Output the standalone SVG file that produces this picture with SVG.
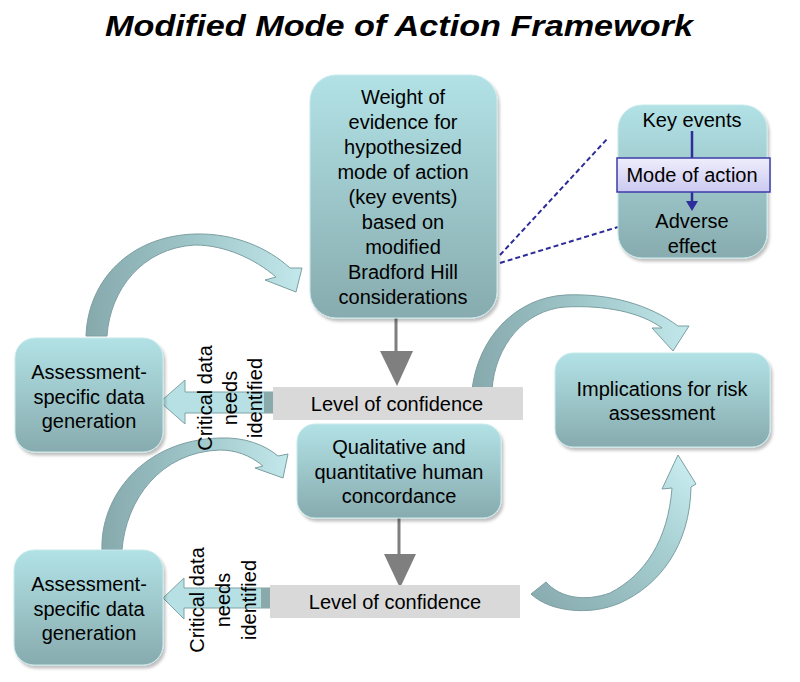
<svg xmlns="http://www.w3.org/2000/svg" width="800" height="682" viewBox="0 0 800 682">
<defs>
<linearGradient id="nodeGrad" x1="0" y1="0" x2="0" y2="1">
<stop offset="0" stop-color="#b2e2e6"/>
<stop offset="1" stop-color="#87abae"/>
</linearGradient>
<linearGradient id="moaGrad" x1="0" y1="0" x2="0" y2="1">
<stop offset="0" stop-color="#efeefc"/>
<stop offset="1" stop-color="#cbc9f0"/>
</linearGradient>
<linearGradient id="arcGradH" x1="0" y1="0" x2="1" y2="0">
<stop offset="0" stop-color="#86a9ac"/>
<stop offset="0.5" stop-color="#9fc6c9"/>
<stop offset="1" stop-color="#c2e8ec"/>
</linearGradient>
<linearGradient id="arcGradUp" x1="0" y1="1" x2="1" y2="0">
<stop offset="0" stop-color="#86a9ac"/>
<stop offset="0.6" stop-color="#a6ced1"/>
<stop offset="1" stop-color="#cdf0f3"/>
</linearGradient>
<filter id="shadow" x="-10%" y="-10%" width="125%" height="125%">
<feDropShadow dx="2" dy="3" stdDeviation="1.5" flood-color="#000" flood-opacity="0.25"/>
</filter>
</defs>
<style>
.node { fill: url(#nodeGrad); stroke: #c9eaed; stroke-width: 1; filter: url(#shadow); }
.txt { font-family: "Liberation Sans", Arial, sans-serif; font-size: 20px; fill: #000; text-anchor: middle; }
.title { font-family: "Liberation Sans", Arial, sans-serif; font-size: 30px; font-weight: bold; font-style: italic; fill: #000; text-anchor: middle; }
.bar { fill: #d9d9d9; }
.arc { stroke: #7c9fa2; stroke-width: 1; }
.block { fill: #b6e0e4; stroke: #7ea4a7; stroke-width: 1; }
.blockEnd { fill: #8aa9ab; }
.gray { stroke: #7f7f7f; stroke-width: 3; fill: none; }
.grayHead { fill: #7f7f7f; }
.dash { stroke: #2b2b99; stroke-width: 2; stroke-dasharray: 5 3; fill: none; }
.blue { stroke: #2e2e9a; stroke-width: 2.5; fill: none; }
</style>
<rect width="800" height="682" fill="#fff"/>
<text class="title" x="399" y="36" textLength="588" lengthAdjust="spacingAndGlyphs">Modified Mode of Action Framework</text>

<g id="connectors">
<!-- curved arrow: left box 1 to weight of evidence -->
<path class="arc" fill="url(#arcGradH)" d="M 86 336 C 88 280 130 236 195 234 C 235 233 268 248 290 268 L 302 268 L 296 292 L 265 280 L 276 277 C 255 259 225 245 195 245 C 142 248 110 290 107 336 Z"/>
<!-- curved arrow: left box 2 to qualitative box -->
<path class="arc" fill="url(#arcGradH)" d="M 102 550 C 100 498 142 440 220 438 C 245 437 265 445 278 456 L 288 454 L 283 478 L 255 468 L 263 466 C 250 455 235 450 220 450 C 160 452 126 500 122 550 Z"/>
<!-- curved arrow: level of confidence 1 to implications -->
<path class="arc" fill="url(#arcGradH)" d="M 472 390 C 478 338 515 298 565 295 C 610 293 650 305 678 326 L 689 326 L 673 351 L 652 328 L 662 328 C 640 312 605 305 565 307 C 525 310 495 345 492 390 Z"/>
<!-- curved arrow: level of confidence 2 to implications -->
<path class="arc" fill="url(#arcGradUp)" d="M 531 594 C 550 612 590 616 620 603 C 660 585 690 545 691 487 L 696 484 L 678 455 L 662 489 L 672 488 C 668 540 645 575 610 593 C 585 602 560 598 546 582 Z"/>

<!-- block arrows: critical data needs identified -->
<path class="block" d="M 160 402 L 185 380 L 185 392 L 273 392 L 273 413 L 185 413 L 185 424 Z"/>
<rect class="blockEnd" x="264" y="392" width="9" height="21"/>
<path class="block" d="M 163 598 L 184 578 L 184 588 L 270 588 L 270 608 L 184 608 L 184 619 Z"/>
<rect class="blockEnd" x="261" y="588" width="9" height="20"/>

<!-- gray down arrows -->
<line class="gray" x1="396" y1="318" x2="396" y2="353"/>
<polygon class="grayHead" points="380,351 413,351 397,386"/>
<line class="gray" x1="399" y1="518" x2="399" y2="556"/>
<polygon class="grayHead" points="384,554 416,554 400,588"/>

<!-- dashed callout lines -->
<line class="dash" x1="500" y1="255" x2="608" y2="138"/>
<line class="dash" x1="500" y1="263" x2="618" y2="227"/>
</g>

<g id="weight-of-evidence">
<rect class="node" x="310" y="75" width="187" height="243" rx="26"/>
<text class="txt" x="403" y="104">Weight of</text>
<text class="txt" x="403" y="129">evidence for</text>
<text class="txt" x="403" y="154">hypothesized</text>
<text class="txt" x="403" y="179">mode of action</text>
<text class="txt" x="403" y="204">(key events)</text>
<text class="txt" x="403" y="229">based on</text>
<text class="txt" x="403" y="254">modified</text>
<text class="txt" x="403" y="279">Bradford Hill</text>
<text class="txt" x="403" y="304">considerations</text>
</g>

<g id="key-events-detail">
<rect class="node" x="618" y="105" width="149" height="153" rx="24"/>
<text class="txt" x="692" y="127">Key events</text>
<line class="blue" x1="692" y1="131" x2="692" y2="159"/>
<line class="blue" x1="692" y1="191" x2="692" y2="203"/>
<polygon fill="#2e2e9a" points="686,201 698,201 692,211"/>
<rect x="617" y="158" width="153" height="34" fill="url(#moaGrad)" stroke="#3c3ca8" stroke-width="1.5"/>
<text class="txt" x="692" y="182">Mode of action</text>
<text class="txt" x="692" y="228">Adverse</text>
<text class="txt" x="692" y="253">effect</text>
</g>

<g id="assessment-1">
<rect class="node" x="15" y="338" width="148" height="114" rx="20"/>
<text class="txt" x="89" y="379">Assessment-</text>
<text class="txt" x="89" y="404">specific data</text>
<text class="txt" x="89" y="428">generation</text>
</g>

<g id="confidence-1">
<rect class="bar" x="273" y="387" width="250" height="33"/>
<text class="txt" x="397" y="411">Level of confidence</text>
</g>

<g id="critical-1">
<text class="txt" transform="translate(212,398) rotate(-90)">Critical data</text>
<text class="txt" transform="translate(237,398) rotate(-90)">needs</text>
<text class="txt" transform="translate(262,398) rotate(-90)">identified</text>
</g>

<g id="implications">
<rect class="node" x="555" y="353" width="215" height="94" rx="18"/>
<text class="txt" x="662" y="396">Implications for risk</text>
<text class="txt" x="662" y="420">assessment</text>
</g>

<g id="concordance">
<rect class="node" x="297" y="424" width="204" height="94" rx="18"/>
<text class="txt" x="399" y="454">Qualitative and</text>
<text class="txt" x="399" y="479">quantitative human</text>
<text class="txt" x="399" y="503">concordance</text>
</g>

<g id="assessment-2">
<rect class="node" x="14" y="550" width="149" height="115" rx="20"/>
<text class="txt" x="89" y="591">Assessment-</text>
<text class="txt" x="89" y="616">specific data</text>
<text class="txt" x="89" y="640">generation</text>
</g>

<g id="confidence-2">
<rect class="bar" x="270" y="585" width="250" height="33"/>
<text class="txt" x="395" y="609">Level of confidence</text>
</g>

<g id="critical-2">
<text class="txt" transform="translate(204,600) rotate(-90)">Critical data</text>
<text class="txt" transform="translate(230,600) rotate(-90)">needs</text>
<text class="txt" transform="translate(256,600) rotate(-90)">identified</text>
</g>
</svg>
